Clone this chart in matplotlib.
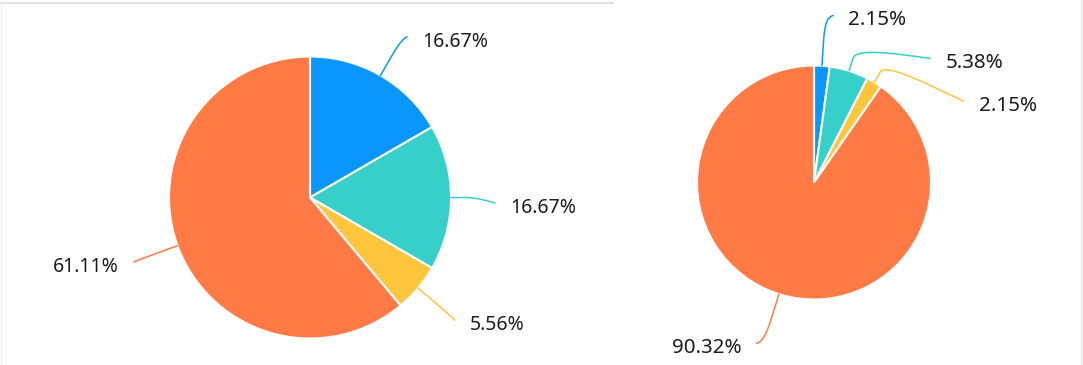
import numpy as np
import matplotlib
matplotlib.use("Agg")
import matplotlib.pyplot as plt
from matplotlib.path import Path
from matplotlib.patches import PathPatch

# data
left_values = [16.67, 16.67, 5.56, 61.11]
left_labels = ["16.67%", "16.67%", "5.56%", "61.11%"]
right_values = [2.15, 5.38, 2.15, 90.32]
right_labels = ["2.15%", "5.38%", "2.15%", "90.32%"]
slice_colors = ["#0A96FF", "#36CFC9", "#FFC53D", "#FF7A45"]

W, H = 1083, 365

# layout (pixels, image y goes down): centre, radius, and per-slice
# leader line (radial length, then dx, dy to line end)
left_layout = dict(center=(310, 197.5), radius=141, fontsize=14,
                   lines=[(40, 6.5, -4), (25, 19, 5.5), (35, 10, 9.5), (40, -6, 2.6)])
right_layout = dict(center=(814, 182.5), radius=117, fontsize=14.8,
                    lines=[(47, 8, -3.4), (24, 74, 10.5), (22, 78, 38), (48, -8, 3.5)])


def draw_pie(ax, values, labels, layout):
    cx, cy_img = layout["center"]
    r = layout["radius"]
    cy = H - cy_img
    ax.pie(values, colors=slice_colors, startangle=90, counterclock=False,
           center=(cx, cy), radius=r,
           wedgeprops=dict(edgecolor="white", linewidth=1.5))
    total = float(sum(values))
    start = 0.0
    for v, lab, col, (l1, dx, dy) in zip(values, labels, slice_colors, layout["lines"]):
        mid = start + v / total * 360 / 2  # degrees clockwise from top
        start += v / total * 360
        a = np.radians(mid)
        ux, uy = np.sin(a), np.cos(a)  # direction, y up
        p0 = np.array([cx + r * ux, cy + r * uy])
        p1 = np.array([cx + (r + l1) * ux, cy + (r + l1) * uy])
        e = p1 + np.array([dx, -dy])
        pa = p0 + (p1 - p0) * 0.55
        m = p1 + (e - p1) * 0.5
        path = Path([p0, pa, p1, m, e],
                    [Path.MOVETO, Path.LINETO, Path.CURVE4, Path.CURVE4, Path.CURVE4])
        ax.add_patch(PathPatch(path, facecolor="none", edgecolor=col, lw=1.1,
                               capstyle="round"))
        side = 1 if e[0] >= cx else -1
        ax.text(e[0] + side * 15, e[1] - 5, lab, ha="left" if side > 0 else "right",
                va="center", fontsize=layout["fontsize"], color="#1c1c1c",
                family=["Noto Sans", "DejaVu Sans"])


fig = plt.figure(figsize=(W / 100, H / 100), dpi=100)
ax = fig.add_axes([0, 0, 1, 1])

draw_pie(ax, left_values, left_labels, left_layout)
draw_pie(ax, right_values, right_labels, right_layout)

# faint panel borders from the screenshot
ax.plot([0, 613], [H - 3, H - 3], color="#e2e2e2", lw=1.5)
ax.plot([0.5, 0.5], [0, H - 3], color="#f0f0f0", lw=1)
ax.plot([W - 2, W - 2], [0, H], color="#ebebeb", lw=1)

ax.set_xlim(0, W)
ax.set_ylim(0, H)
ax.set_aspect("auto")
ax.axis("off")

fig.savefig("out.png", dpi=100)
